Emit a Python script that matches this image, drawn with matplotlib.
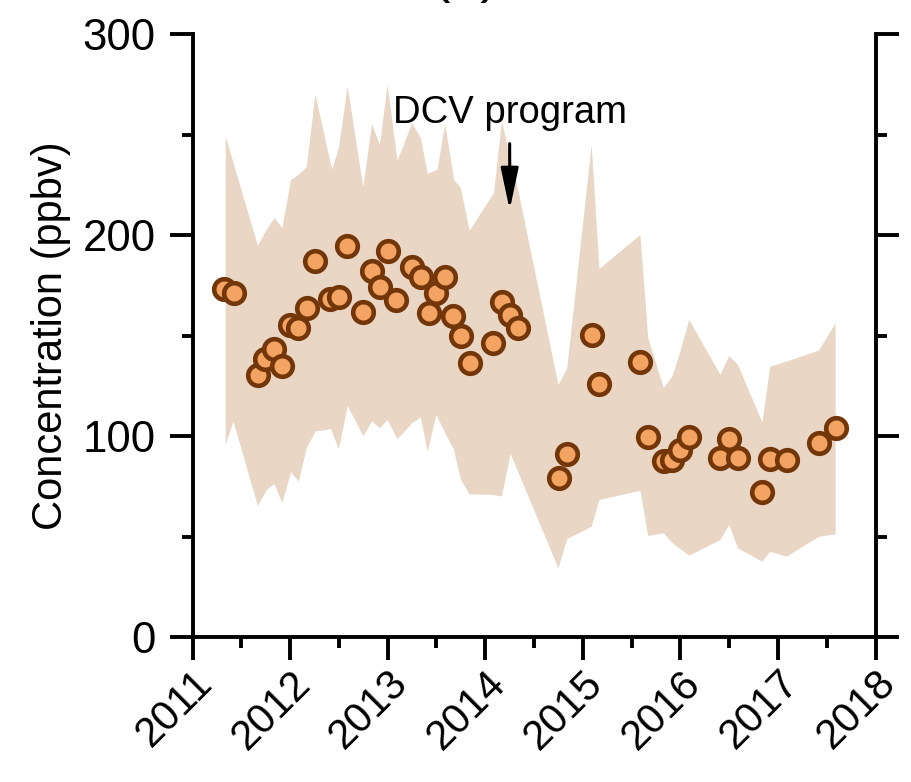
import numpy as np
import matplotlib
matplotlib.use("Agg")
import matplotlib.pyplot as plt
from matplotlib.ticker import MultipleLocator

plt.rcParams['font.family'] = ['Liberation Sans', 'DejaVu Sans']

# monthly mean concentration (decimal year, ppbv)
obs_year = [2011.32, 2011.42, 2011.67, 2011.74, 2011.83, 2011.92, 2012.00, 2012.08,
            2012.17, 2012.25, 2012.41, 2012.50, 2012.58, 2012.75, 2012.84, 2012.92,
            2013.00, 2013.09, 2013.25, 2013.34, 2013.42, 2013.50, 2013.59, 2013.67,
            2013.75, 2013.84, 2014.08, 2014.17, 2014.25, 2014.34, 2014.76, 2014.84,
            2015.09, 2015.17, 2015.59, 2015.67, 2015.83, 2015.91, 2016.00, 2016.09,
            2016.41, 2016.50, 2016.59, 2016.84, 2016.92, 2017.09, 2017.42, 2017.59]
obs_conc = [173.1, 171.1, 130.5, 138.5, 143.2, 135.0, 155.4, 153.7,
            164.0, 186.9, 168.2, 169.2, 194.8, 162.0, 182.4, 174.4,
            192.3, 167.8, 184.1, 179.4, 161.2, 171.4, 179.4, 160.0,
            150.0, 136.6, 146.6, 166.7, 160.3, 153.7, 79.4, 91.2,
            150.4, 126.0, 137.0, 99.5, 87.7, 88.2, 93.2, 99.5,
            89.4, 98.7, 89.4, 72.1, 88.6, 88.2, 96.5, 104.0]

# upper edge of the range
hi_year = [2011.34, 2011.67, 2011.76, 2011.84, 2011.92, 2012.01, 2012.09, 2012.17,
           2012.26, 2012.43, 2012.50, 2012.59, 2012.75, 2012.84, 2012.92, 2013.00,
           2013.10, 2013.18, 2013.25, 2013.34, 2013.41, 2013.51, 2013.59, 2013.68,
           2013.75, 2013.84, 2014.00, 2014.09, 2014.17, 2014.33, 2014.75, 2014.84,
           2015.09, 2015.17, 2015.59, 2015.67, 2015.83, 2015.92, 2016.00, 2016.09,
           2016.41, 2016.50, 2016.59, 2016.84, 2016.92, 2017.09, 2017.42, 2017.59]
hi_conc = [249.1, 194.7, 202.6, 208.5, 203.5, 227.5, 230.0, 233.8,
           269.8, 232.5, 243.3, 273.9, 223.9, 255.2, 244.9, 274.8,
           237.0, 246.6, 255.7, 248.3, 230.5, 232.5, 255.2, 227.5,
           223.4, 202.1, 214.2, 220.9, 256.5, 224.2, 125.5, 133.8,
           244.9, 183.2, 200.1, 148.8, 123.9, 130.0, 142.1, 157.9,
           130.5, 139.9, 135.5, 106.8, 134.6, 137.1, 142.6, 156.2]

# lower edge of the range
lo_year = [2011.34, 2011.42, 2011.67, 2011.76, 2011.84, 2011.92, 2012.01, 2012.09,
           2012.17, 2012.26, 2012.42, 2012.50, 2012.59, 2012.75, 2012.84, 2012.92,
           2013.00, 2013.10, 2013.18, 2013.25, 2013.34, 2013.41, 2013.50, 2013.59,
           2013.68, 2013.75, 2013.84, 2014.08, 2014.17, 2014.26, 2014.75, 2014.84,
           2015.09, 2015.17, 2015.59, 2015.67, 2015.83, 2015.92, 2016.09, 2016.41,
           2016.50, 2016.59, 2016.84, 2016.92, 2017.09, 2017.42, 2017.59]
lo_conc = [95.7, 107.3, 65.3, 73.3, 76.3, 66.7, 82.1, 77.4,
           94.0, 102.3, 103.5, 93.5, 115.1, 100.1, 107.3, 104.0,
           108.1, 98.5, 102.6, 106.5, 109.3, 92.3, 110.6, 101.5,
           93.2, 78.3, 71.1, 70.8, 70.0, 91.2, 34.3, 48.8,
           55.0, 68.3, 72.9, 50.4, 51.7, 46.8, 40.6, 48.4,
           55.9, 44.3, 37.6, 42.6, 40.1, 50.0, 51.2]

fig = plt.figure(figsize=(9.12, 7.82), dpi=100)
ax = fig.add_axes([0.2111, 0.185, 0.749, 0.7715])

# shaded range as one polygon (upper edge forward, lower edge back)
band_x = np.concatenate([hi_year, lo_year[::-1]])
band_y = np.concatenate([hi_conc, lo_conc[::-1]])
ax.fill(band_x, band_y, color='#E9D6C5', lw=0, zorder=1)

ax.scatter(obs_year, obs_conc, s=220, c='#F4A462', edgecolors='#723609',
           linewidths=3.3, zorder=3)

# DCV program marker
ax.text(2013.05, 255.7, 'DCV program', fontsize=27.5, ha='left', va='baseline')
ax.annotate('', xy=(2014.25, 212.5), xytext=(2014.25, 245.5),
            arrowprops=dict(arrowstyle='-|>,head_length=0.85,head_width=0.18',
                            mutation_scale=30, lw=2.2, color='k',
                            shrinkA=0, shrinkB=0))

ax.set_xlim(2011, 2018)
ax.set_ylim(0, 300)
ax.xaxis.set_major_locator(MultipleLocator(1))
ax.xaxis.set_minor_locator(MultipleLocator(0.5))
ax.yaxis.set_major_locator(MultipleLocator(100))
ax.yaxis.set_minor_locator(MultipleLocator(50))
ax.set_xticks(range(2011, 2019))
ax.set_xticklabels([str(y) for y in range(2011, 2019)], rotation=45,
                   ha='right', va='top', rotation_mode='anchor')

ax.spines['top'].set_visible(False)
for s in ['left', 'right', 'bottom']:
    ax.spines[s].set_linewidth(2.8)

ax.tick_params(which='both', direction='out', width=2.8, right=True, top=False,
               labelright=False)
ax.tick_params(which='major', length=16.5)
ax.tick_params(which='minor', length=8)
ax.tick_params(axis='x', which='major', labelsize=30, pad=2)
ax.tick_params(axis='y', which='major', labelsize=31.5, pad=10)

ax.set_ylabel('Concentration (ppbv)', fontsize=30, labelpad=8)

# panel letter, mostly outside the top edge
fig.text(465 / 912, 1.012, '(a)', fontsize=40, ha='center', va='baseline')

fig.savefig('out.png', dpi=100)
